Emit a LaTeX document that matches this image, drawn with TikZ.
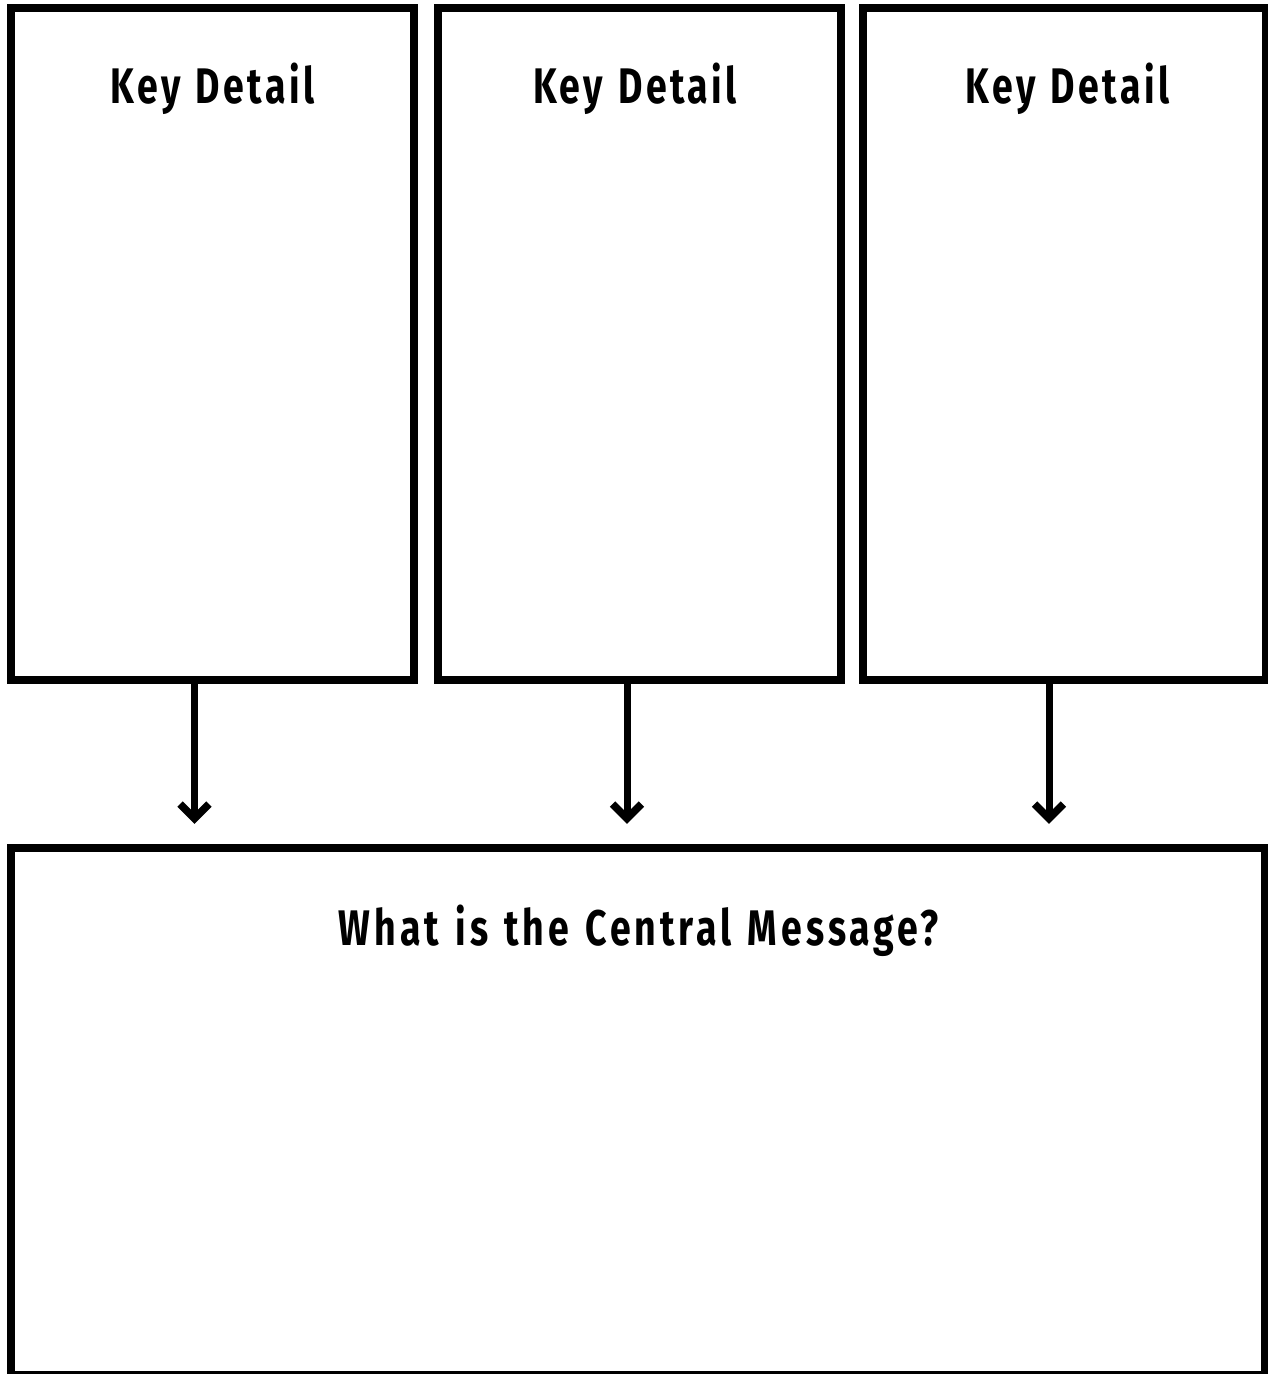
\documentclass[tikz,border=0pt]{standalone}
\usepackage{fontspec}
\setmainfont{Fira Sans}[FakeStretch=0.75, LetterSpace=6.8, WordSpace=1.25]
\begin{document}
\begin{tikzpicture}[x=1pt,y=-1pt,
  card/.style={draw=black, line width=8pt, rectangle, inner sep=0pt, outer sep=0pt},
  lbl/.style={anchor=base, inner sep=0pt, font=\fontsize{50}{60}\selectfont\bfseries},
  shaft/.style={draw=black, line width=7pt},
  chev/.style={draw=black, line width=7.5pt, line join=miter, line cap=butt}]
\useasboundingbox (0,0) rectangle (1268,1374);
\fill[white] (0,0) rectangle (1268,1374);
% key detail boxes
\node[card, minimum width=403pt, minimum height=672pt] (b1) at (212.5,344) {};
\node[card, minimum width=403pt, minimum height=672pt] (b2) at (639,344) {};
\node[card, minimum width=403pt, minimum height=672pt] (b3) at (1064.5,344) {};
% central message box
\node[card, minimum width=1254pt, minimum height=527pt] (cm) at (638,1111.5) {};
% labels
\node[lbl] (t1) at (212.5,103) {Key Detail};
\node[lbl] (t2) at (635,103) {Key Detail};
\node[lbl] (t3) at (1067.5,103) {Key Detail};
\node[lbl] (tc) at (639,945) {\addfontfeatures{LetterSpace=8}What is the Central Message?};
% arrow tips
\coordinate (a1) at (194.5,818.5);
\coordinate (a2) at (627,818.5);
\coordinate (a3) at (1049,818.5);
\foreach \a/\b in {a1/b1,a2/b2,a3/b3}{
  \draw[shaft] (\b.south -| \a) -- (\a);
  \draw[chev] (\a) ++(-14.5,-14.5) -- (\a) -- ++(14.5,-14.5);
}
\end{tikzpicture}
\end{document}
